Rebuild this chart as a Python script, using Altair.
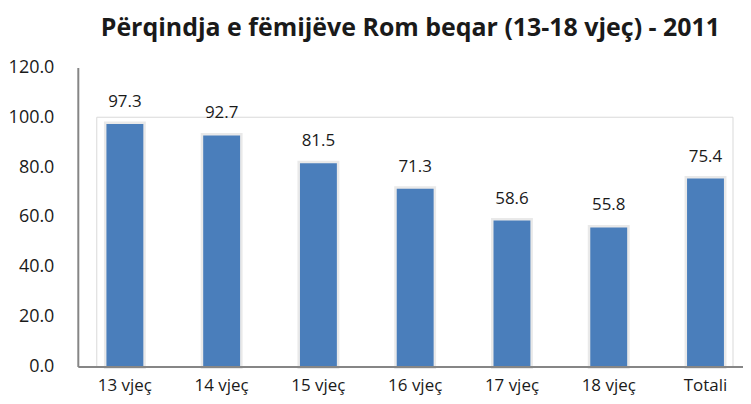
import altair as alt
import pandas as pd

categories = ["13 vjeç", "14 vjeç", "15 vjeç", "16 vjeç", "17 vjeç", "18 vjeç", "Totali"]
values = [97.3, 92.7, 81.5, 71.3, 58.6, 55.8, 75.4]
y_ticks = [0, 20, 40, 60, 80, 100, 120]

df = pd.DataFrame({"cat": categories, "val": values})
FONT = "Open Sans"

x_enc = alt.X("cat:N", sort=categories,
              scale=alt.Scale(paddingInner=0.62, paddingOuter=0.247, align=0.6),
              axis=alt.Axis(title=None, labelAngle=0, labelFont=FONT, labelFontSize=17,
                            labelColor="#1a1a1a", labelPadding=11, ticks=False,
                            domainColor="#868686", domainWidth=2, zindex=1))
y_enc = alt.Y("val:Q", scale=alt.Scale(domain=[0, 120], nice=False),
              axis=alt.Axis(title=None, values=y_ticks, format=".1f", grid=False,
                            labelFont=FONT, labelFontSize=18, labelColor="#1a1a1a",
                            labelPadding=24, ticks=False, domainColor="#868686",
                            domainWidth=2, zindex=1))

base = alt.Chart(df)

glow = base.mark_bar(size=37, color="#eeeeee", stroke="#e9e9e9", strokeWidth=5).encode(x=x_enc, y=y_enc)

box = alt.Chart(pd.DataFrame({"top": [100], "bot": [0]})).mark_rect(
    fill=None, stroke="#d9d9d9", strokeWidth=1
).encode(x=alt.value(19), x2=alt.value(657),
         y=alt.Y("top:Q"), y2="bot:Q")

bars = base.mark_bar(size=37, color="#4a7ebb").encode(x=x_enc, y=y_enc)
labels = base.mark_text(baseline="bottom", dy=-13, font=FONT, fontSize=17, color="#1a1a1a").encode(
    x=x_enc, y=y_enc, text=alt.Text("val:Q", format=".1f"))

chart = alt.layer(glow, box, bars, labels).properties(
    width=667, height=300,
    autosize=alt.AutoSizeParams(type="none"),
    padding={"left": 70, "top": 59, "right": 0, "bottom": 37},
    title=alt.TitleParams("Përqindja e fëmijëve Rom beqar (13-18 vjeç) - 2011",
                          font=FONT, fontSize=25, fontWeight="bold", color="#1a1a1a",
                          anchor="middle", offset=17),
).configure_view(stroke=None)

chart.save("out.html", embed_options={"renderer": "svg", "actions": False})
